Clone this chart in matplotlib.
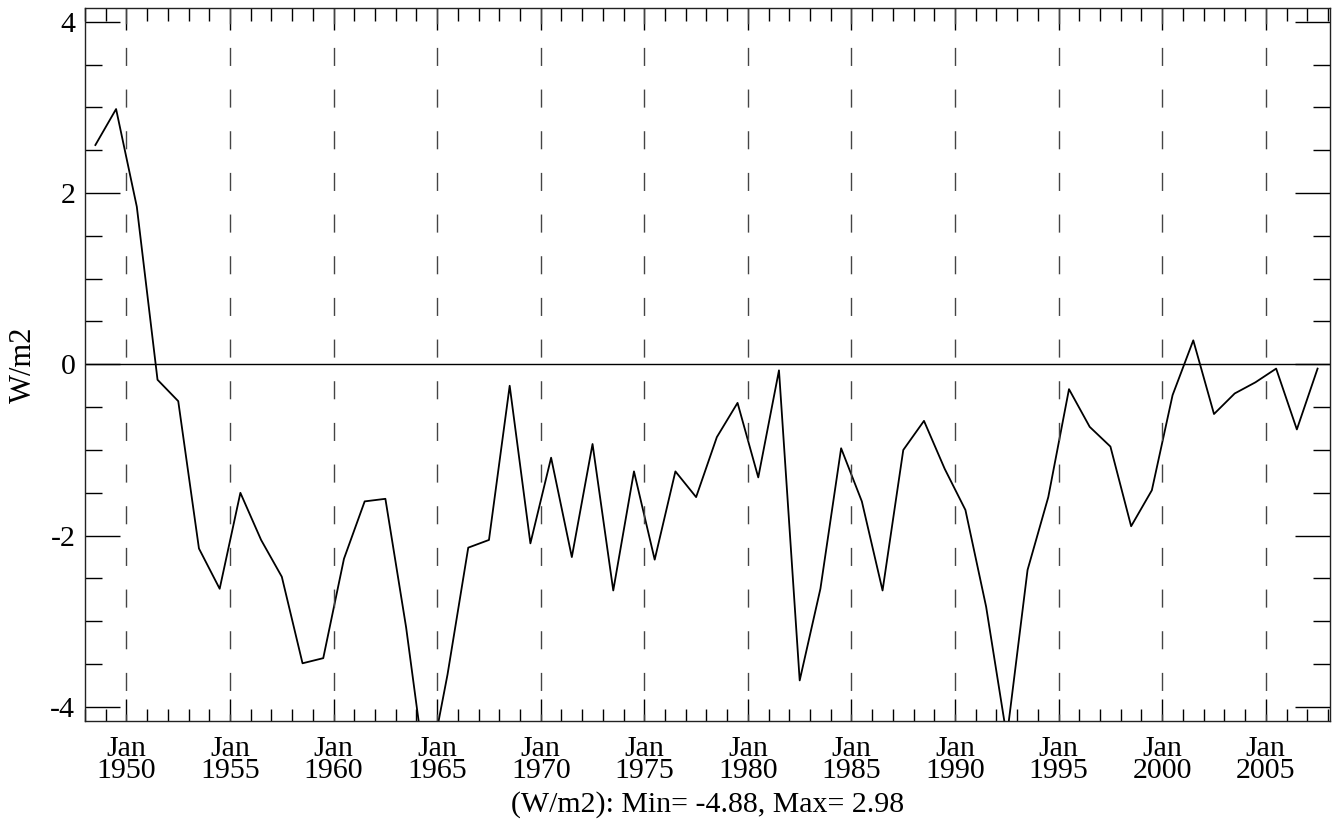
import numpy as np
import matplotlib
matplotlib.use("Agg")
import matplotlib.pyplot as plt
from matplotlib.ticker import MultipleLocator, FixedLocator

# annual values, plotted at mid-year
years = np.arange(1948, 2008)
values = [2.56, 2.98, 1.84, -0.18, -0.43, -2.15, -2.62, -1.50, -2.05, -2.48,
          -3.49, -3.43, -2.27, -1.60, -1.57, -3.07, -4.88, -3.62, -2.14, -2.05,
          -0.25, -2.09, -1.09, -2.25, -0.93, -2.64, -1.25, -2.28, -1.25, -1.55,
          -0.85, -0.45, -1.32, -0.07, -3.69, -2.62, -0.98, -1.60, -2.64, -1.00,
          -0.66, -1.22, -1.70, -2.83, -4.35, -2.40, -1.55, -0.29, -0.73, -0.96,
          -1.89, -1.47, -0.36, 0.28, -0.58, -0.34, -0.21, -0.05, -0.76, -0.05]
label_years = [1950, 1955, 1960, 1965, 1970, 1975, 1980, 1985, 1990, 1995, 2000, 2005]
tick_labels = ["Jan\n%d" % y for y in label_years]

plt.rcParams['font.family'] = ['Liberation Serif', 'DejaVu Serif']

fig = plt.figure(figsize=(13.41, 8.30), dpi=100)
ax = fig.add_axes([0.0634, 0.1317, 0.9284, 0.8587])

x = years + 0.5
ax.plot(x, values, color="black", lw=1.3)
ax.axhline(0, color="black", lw=1.0)
for yr in label_years:
    ax.axvline(yr, color="#444444", lw=1.0, ls=(8, (13, 17)))

ax.set_xlim(1948.0, 2008.1)
ax.set_ylim(-4.16, 4.16)

ax.xaxis.set_major_locator(FixedLocator(label_years))
ax.set_xticklabels(tick_labels, fontsize=21.5, linespacing=0.82)
ax.xaxis.set_minor_locator(MultipleLocator(1))
ax.yaxis.set_major_locator(FixedLocator([-4, -2, 0, 2, 4]))
ax.set_yticklabels(["-4", "-2", "0", "2", "4"], fontsize=21.5)
ax.yaxis.set_minor_locator(MultipleLocator(0.5))

ax.tick_params(axis="x", which="major", direction="in", length=16, width=1, top=True, pad=11)
ax.tick_params(axis="x", which="minor", direction="in", length=9, width=1, top=True)
ax.tick_params(axis="y", which="major", direction="in", length=25, width=1, right=True, pad=7)
ax.tick_params(axis="y", which="minor", direction="in", length=12, width=1, right=True)
for s in ax.spines.values():
    s.set_linewidth(1.0)
    s.set_color("#222222")

ax.set_ylabel("W/m2", fontsize=22, labelpad=9)
ax.set_xlabel("(W/m2): Min= -4.88, Max= 2.98", fontsize=21.5, labelpad=5)

fig.savefig("out.png", dpi=100)
